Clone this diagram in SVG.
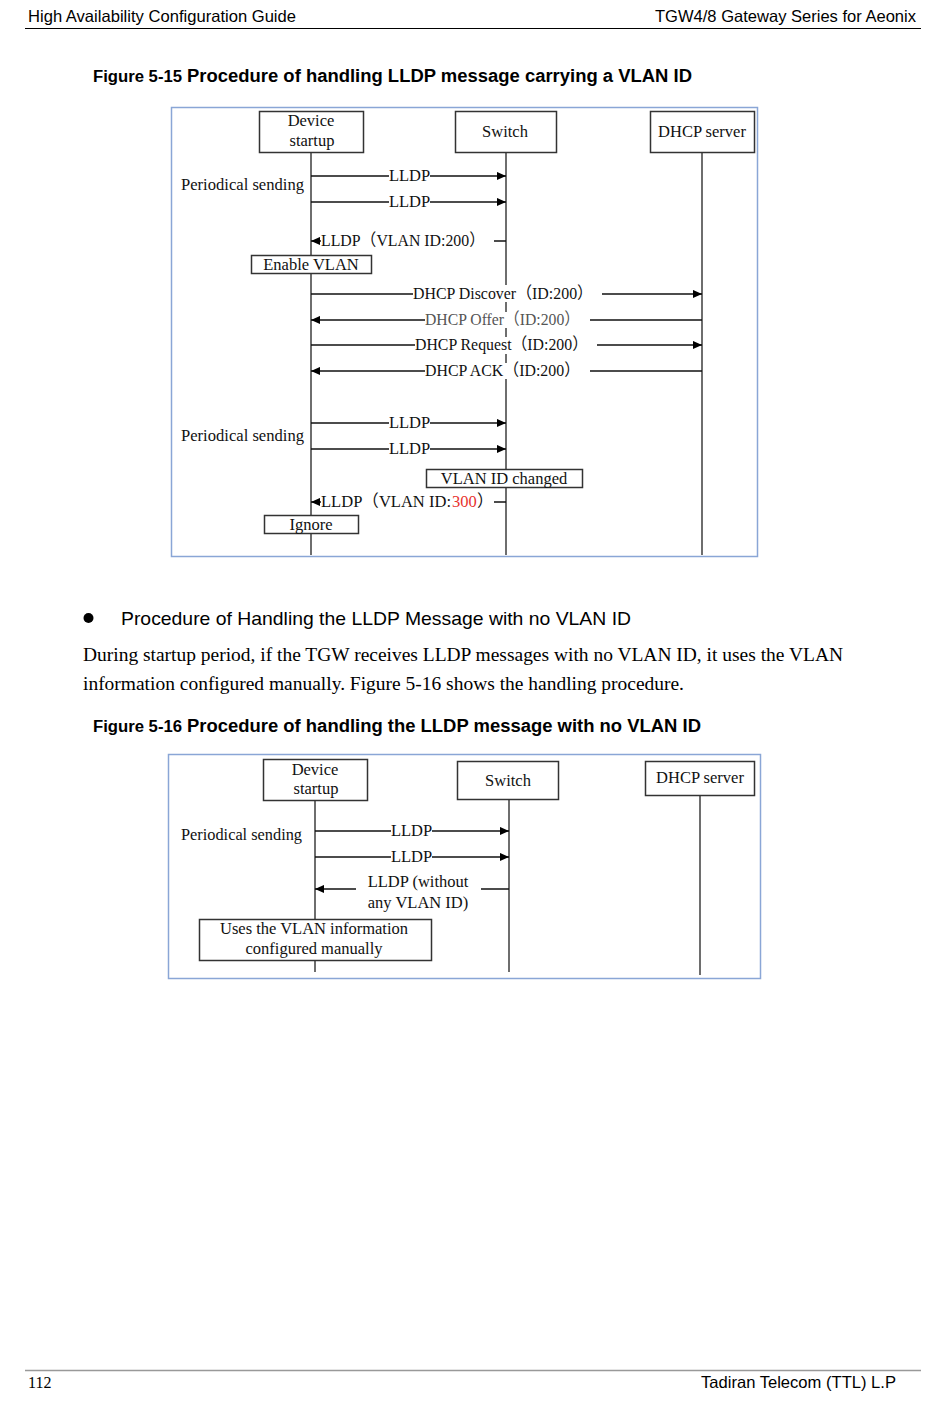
<svg xmlns="http://www.w3.org/2000/svg" width="950" height="1408" viewBox="0 0 950 1408">
<defs>
<marker id="ah" viewBox="0 0 10 10" refX="10" refY="5" markerWidth="9" markerHeight="9" markerUnits="userSpaceOnUse" orient="auto">
<path d="M0,0.5 L10,5 L0,9.5 z" fill="#000"/>
</marker>
<style>
.hdr{font-family:"Liberation Sans",Arial,sans-serif;font-size:16.5px;fill:#000}
.capA{font-family:"Liberation Sans",Arial,sans-serif;font-size:16px;font-weight:bold;fill:#000}
.capB{font-family:"Liberation Sans",Arial,sans-serif;font-size:18px;font-weight:bold;fill:#000}
.body{font-family:"Liberation Serif","Times New Roman",serif;font-size:19px;fill:#000}
.bul{font-family:"Liberation Sans",Arial,sans-serif;font-size:19px;fill:#000}
.t{font-family:"Liberation Serif","Times New Roman","Noto Sans CJK SC",serif;font-size:16.5px;fill:#111}
.tc{font-family:"Liberation Serif","Times New Roman","Noto Sans CJK SC",serif;font-size:16.5px;fill:#111;text-anchor:middle}
.frame{fill:#fff;stroke:#8aa6d6;stroke-width:1.5}
.box{fill:#fff;stroke:#333;stroke-width:1.5}
.life{stroke:#6e6e6e;stroke-width:2;fill:none}
.msg{stroke:#111;stroke-width:1.5;fill:none}
.bg{fill:#fff}
</style>
</defs>

<!-- page header/footer -->
<g id="page">
<text class="hdr" x="28" y="22" textLength="268" lengthAdjust="spacingAndGlyphs">High Availability Configuration Guide</text>
<text class="hdr" x="655" y="22" textLength="261" lengthAdjust="spacingAndGlyphs">TGW4/8 Gateway Series for Aeonix</text>
<line x1="25" y1="28.5" x2="921" y2="28.5" stroke="#000" stroke-width="1"/>
<text class="capA" x="93" y="82" textLength="89" lengthAdjust="spacingAndGlyphs">Figure 5-15</text>
<text class="capB" x="187" y="82" textLength="505" lengthAdjust="spacingAndGlyphs">Procedure of handling LLDP message carrying a VLAN ID</text>
<circle cx="88.5" cy="618" r="5" fill="#000"/>
<text class="bul" x="121" y="625" textLength="510" lengthAdjust="spacingAndGlyphs">Procedure of Handling the LLDP Message with no VLAN ID</text>
<text class="body" x="83" y="661" textLength="760" lengthAdjust="spacingAndGlyphs">During startup period, if the TGW receives LLDP messages with no VLAN ID, it uses the VLAN</text>
<text class="body" x="83" y="690" textLength="601" lengthAdjust="spacingAndGlyphs">information configured manually. Figure 5-16 shows the handling procedure.</text>
<text class="capA" x="93" y="732" textLength="89" lengthAdjust="spacingAndGlyphs">Figure 5-16</text>
<text class="capB" x="187" y="732" textLength="514" lengthAdjust="spacingAndGlyphs">Procedure of handling the LLDP message with no VLAN ID</text>
<line x1="25" y1="1370.5" x2="921" y2="1370.5" stroke="#999" stroke-width="1.5"/>
<text class="body" x="28" y="1388" style="font-size:16px">112</text>
<text class="hdr" x="701" y="1388" textLength="195" lengthAdjust="spacingAndGlyphs">Tadiran Telecom (TTL) L.P</text>
</g>

<!-- ================= Figure 5-15 ================= -->
<g id="fig1">
<rect class="frame" x="171.5" y="107.5" width="586" height="449"/>
</g>
<g id="fig1-lifelines">
<line class="life" x1="311" y1="153" x2="311" y2="555"/>
<line class="life" x1="506" y1="153" x2="506" y2="555"/>
<line class="life" x1="702" y1="153" x2="702" y2="555"/>
</g>
<g id="f1-device">
<rect class="box" x="259.5" y="111.5" width="104" height="41"/>
<text class="tc" x="311" y="126">Device</text>
<text class="tc" x="312" y="146">startup</text>
</g>
<g id="f1-switch">
<rect class="box" x="455.5" y="111.5" width="101" height="41"/>
<text class="tc" x="505" y="137">Switch</text>
</g>
<g id="f1-dhcp">
<rect class="box" x="650.5" y="111.5" width="104" height="41"/>
<text class="tc" x="702" y="137">DHCP server</text>
</g>
<g id="f1-labels">
<text class="t" x="181" y="190" textLength="123" lengthAdjust="spacingAndGlyphs">Periodical sending</text>
<text class="t" x="181" y="441" textLength="123" lengthAdjust="spacingAndGlyphs">Periodical sending</text>
</g>
<g id="f1-connectors">
<!-- LLDP 1 -->
<line class="msg" x1="311" y1="176" x2="389" y2="176"/>
<line class="msg" x1="430" y1="176" x2="506" y2="176" marker-end="url(#ah)"/>
<text class="tc" x="409.5" y="181">LLDP</text>
<!-- LLDP 2 -->
<line class="msg" x1="311" y1="202" x2="389" y2="202"/>
<line class="msg" x1="430" y1="202" x2="506" y2="202" marker-end="url(#ah)"/>
<text class="tc" x="409.5" y="207">LLDP</text>
<!-- LLDP VLAN 200 -->
<line class="msg" x1="506" y1="241" x2="494" y2="241"/>
<line class="msg" x1="321" y1="241" x2="311" y2="241" marker-end="url(#ah)"/>
<text class="t" x="321" y="246" textLength="164" lengthAdjust="spacingAndGlyphs">LLDP（VLAN ID:200）</text>
<!-- DHCP Discover -->
<rect class="bg" x="412" y="285" width="183" height="17"/>
<line class="msg" x1="311" y1="294" x2="413" y2="294"/>
<line class="msg" x1="602" y1="294" x2="702" y2="294" marker-end="url(#ah)"/>
<text class="t" x="413" y="299" textLength="180" lengthAdjust="spacingAndGlyphs">DHCP Discover（ID:200）</text>
<!-- DHCP Offer -->
<rect class="bg" x="424" y="312" width="158" height="16"/>
<line class="msg" x1="702" y1="320" x2="590" y2="320"/>
<line class="msg" x1="425" y1="320" x2="311" y2="320" marker-end="url(#ah)"/>
<text class="t" x="425" y="325" style="fill:#555" textLength="155" lengthAdjust="spacingAndGlyphs">DHCP Offer（ID:200）</text>
<!-- DHCP Request -->
<rect class="bg" x="414" y="337" width="176" height="17"/>
<line class="msg" x1="311" y1="345" x2="415" y2="345"/>
<line class="msg" x1="597" y1="345" x2="702" y2="345" marker-end="url(#ah)"/>
<text class="t" x="415" y="350" textLength="173" lengthAdjust="spacingAndGlyphs">DHCP Request（ID:200）</text>
<!-- DHCP ACK -->
<rect class="bg" x="424" y="363" width="158" height="16"/>
<line class="msg" x1="702" y1="371" x2="590" y2="371"/>
<line class="msg" x1="425" y1="371" x2="311" y2="371" marker-end="url(#ah)"/>
<text class="t" x="425" y="376" textLength="155" lengthAdjust="spacingAndGlyphs">DHCP ACK（ID:200）</text>
<!-- LLDP 3 -->
<line class="msg" x1="311" y1="423" x2="389" y2="423"/>
<line class="msg" x1="430" y1="423" x2="506" y2="423" marker-end="url(#ah)"/>
<text class="tc" x="409.5" y="428">LLDP</text>
<!-- LLDP 4 -->
<line class="msg" x1="311" y1="449" x2="389" y2="449"/>
<line class="msg" x1="430" y1="449" x2="506" y2="449" marker-end="url(#ah)"/>
<text class="tc" x="409.5" y="454">LLDP</text>
<!-- LLDP VLAN 300 -->
<line class="msg" x1="506" y1="502" x2="494" y2="502"/>
<line class="msg" x1="321" y1="502" x2="311" y2="502" marker-end="url(#ah)"/>
<text class="t" x="321" y="507" textLength="130" lengthAdjust="spacingAndGlyphs">LLDP（VLAN ID:</text>
<text class="t" x="452" y="507" style="fill:#e8322e">300</text>
<text class="t" x="477" y="507">）</text>
</g>
<g id="f1-enable">
<rect class="box" x="251.5" y="255.5" width="120" height="18"/>
<text class="tc" x="311" y="270">Enable VLAN</text>
</g>
<g id="f1-changed">
<rect class="box" x="426.5" y="469.5" width="156" height="18"/>
<text class="tc" x="504" y="484">VLAN ID changed</text>
</g>
<g id="f1-ignore">
<rect class="box" x="264.5" y="515.5" width="94" height="18"/>
<text class="tc" x="311" y="530">Ignore</text>
</g>

<!-- ================= Figure 5-16 ================= -->
<g id="fig2">
<rect class="frame" x="168.5" y="754.5" width="592" height="224"/>
</g>
<g id="fig2-lifelines">
<line class="life" x1="315" y1="800" x2="315" y2="972"/>
<line class="life" x1="509" y1="800" x2="509" y2="972"/>
<line class="life" x1="700" y1="795" x2="700" y2="975"/>
</g>
<g id="f2-device">
<rect class="box" x="263.5" y="759.5" width="104" height="41"/>
<text class="tc" x="315" y="775">Device</text>
<text class="tc" x="316" y="794">startup</text>
</g>
<g id="f2-switch">
<rect class="box" x="457.5" y="761.5" width="101" height="38"/>
<text class="tc" x="508" y="786">Switch</text>
</g>
<g id="f2-dhcp">
<rect class="box" x="645.5" y="761.5" width="109" height="34"/>
<text class="tc" x="700" y="783">DHCP server</text>
</g>
<g id="f2-labels">
<text class="t" x="181" y="840" textLength="121" lengthAdjust="spacingAndGlyphs">Periodical sending</text>
</g>
<g id="f2-connectors">
<line class="msg" x1="315" y1="831" x2="391" y2="831"/>
<line class="msg" x1="432" y1="831" x2="509" y2="831" marker-end="url(#ah)"/>
<text class="tc" x="411.5" y="836">LLDP</text>
<line class="msg" x1="315" y1="857" x2="391" y2="857"/>
<line class="msg" x1="432" y1="857" x2="509" y2="857" marker-end="url(#ah)"/>
<text class="tc" x="411.5" y="862">LLDP</text>
<line class="msg" x1="509" y1="889" x2="481" y2="889"/>
<line class="msg" x1="356" y1="889" x2="315" y2="889" marker-end="url(#ah)"/>
<text class="tc" x="418" y="887">LLDP (without</text>
<text class="tc" x="418" y="908">any VLAN ID)</text>
</g>
<g id="f2-uses">
<rect class="box" x="199.5" y="919.5" width="232" height="41"/>
<text class="tc" x="314" y="934">Uses the VLAN information</text>
<text class="tc" x="314" y="954">configured manually</text>
</g>
</svg>
